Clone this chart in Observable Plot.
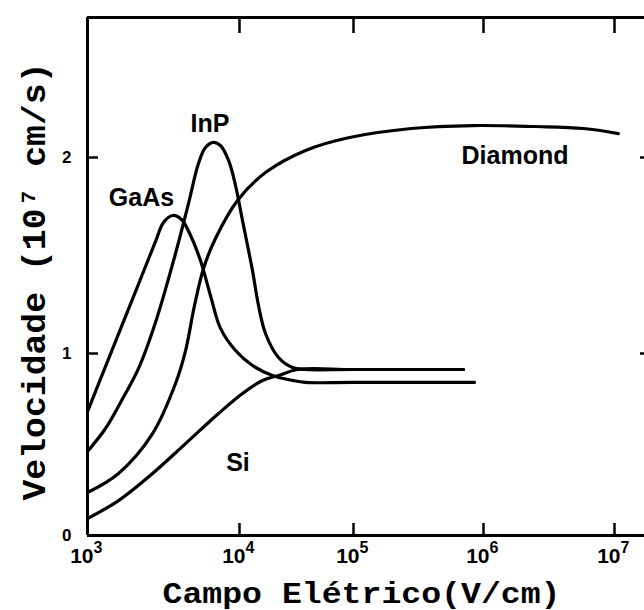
<!DOCTYPE html>
<html><head><meta charset="utf-8">
<script src="https://cdn.jsdelivr.net/npm/d3@7"></script>
<script src="https://cdn.jsdelivr.net/npm/@observablehq/plot@0.6"></script>
<style>body{margin:0;background:#fff}#chart svg{display:block}</style>
</head><body><div id="chart"></div>
<script>
// Axis ticks
const fieldTicks = [1e3, 1e4, 1e5, 1e6, 1e7];
const velocityTicks = [0, 1, 2];
const velocityMax = 2.714;

// GaAs
const gaasField = [1000, 1416, 2070, 2800, 3162, 3622, 4150, 4766, 5536, 6442, 7499, 9420, 13000, 19450, 29170, 37930, 100000, 853000];
const gaasVel   = [0.681, 0.997, 1.316, 1.571, 1.668, 1.704, 1.684, 1.602, 1.474, 1.296, 1.128, 1.015, 0.934, 0.879, 0.852, 0.841, 0.841, 0.841];
// InP
const inpField = [1000, 1313, 1649, 2167, 2800, 3794, 4615, 5370, 5970, 6745, 7499, 8472, 9420, 10620, 13000, 14680, 16900, 21980, 29170, 37930, 100000, 702000];
const inpVel   = [0.462, 0.588, 0.731, 0.918, 1.158, 1.510, 1.765, 1.969, 2.051, 2.077, 2.061, 1.985, 1.857, 1.679, 1.423, 1.245, 1.102, 0.978, 0.923, 0.912, 0.912, 0.912];
// Diamond
const diaField = [1000, 1600, 2680, 3794, 4418, 5058, 5796, 6950, 9700, 16900, 37930, 92200, 279000, 822000, 2450000, 5800000, 10700000];
const diaVel   = [0.236, 0.341, 0.560, 0.835, 1.015, 1.245, 1.434, 1.587, 1.781, 1.923, 2.036, 2.102, 2.148, 2.163, 2.158, 2.148, 2.122];
// Si
const siField = [1000, 1600, 2680, 4418, 7278, 10620, 15920, 21980, 32300, 100000, 702000];
const siVel   = [0.093, 0.192, 0.341, 0.505, 0.670, 0.780, 0.852, 0.879, 0.912, 0.912, 0.912];

// Curve labels
const labelNames = ["InP", "GaAs", "Diamond", "Si"];
const labelField = [6397, 2265, 1740000, 9770];
const labelVel   = [2.171, 1.791, 2.010, 0.401];

const xTitle = "Campo Elétrico(V/cm)";
const yTitle = "Velocidade (10⁷ cm/s)";

const series = (f, v) => f.map((x, i) => ({x, y: v[i]}));
const sans = "'Liberation Sans', Arial, Helvetica, sans-serif";
const mono = "'Courier New', 'Liberation Mono', monospace";
const lineOpts = {x: "x", y: "y", stroke: "#000", strokeWidth: 3.2, curve: "catmull-rom"};

const chart = Plot.plot({
  width: 644, height: 610,
  marginLeft: 87, marginRight: 0, marginTop: 17, marginBottom: 75,
  style: {background: "#fff", color: "#000", fontFamily: sans},
  x: {type: "log", domain: fieldTicks, range: [87, 239, 353, 483, 614], axis: null},
  y: {type: "linear", domain: [0, 1, 2, velocityMax], range: [535, 353, 157, 17], axis: null},
  marks: [
    Plot.line(series(gaasField, gaasVel), lineOpts),
    Plot.line(series(inpField, inpVel), lineOpts),
    Plot.line(series(diaField, diaVel), lineOpts),
    Plot.line(series(siField, siVel), lineOpts),
    Plot.ruleY([0, velocityMax], {stroke: "#000", strokeWidth: 3}),
    Plot.ruleX([fieldTicks[0]], {stroke: "#000", strokeWidth: 3}),
    Plot.axisX(fieldTicks.slice(1), {anchor: "bottom", tickSize: -12, tickFormat: () => "", label: null, strokeWidth: 2.5}),
    Plot.axisX(fieldTicks.slice(1), {anchor: "top", tickSize: -15, tickFormat: () => "", label: null, strokeWidth: 2.5}),
    Plot.axisY([1, 2], {anchor: "left", tickSize: -11, tickFormat: () => "", label: null, strokeWidth: 2.5}),
    Plot.axisY([1, 2], {anchor: "right", tickSize: -5, tickFormat: () => "", label: null, strokeWidth: 2.5}),
    Plot.text(fieldTicks, {x: d => d, frameAnchor: "bottom", text: () => "10", textAnchor: "end", lineAnchor: "middle", dx: 6, dy: 21, fontSize: 21, fontWeight: "bold", fontFamily: sans}),
    Plot.text(fieldTicks, {x: d => d, frameAnchor: "bottom", text: d => String(Math.round(Math.log10(d))), textAnchor: "start", lineAnchor: "middle", dx: 6, dy: 12, fontSize: 16, fontWeight: "bold", fontFamily: sans}),
    Plot.text(velocityTicks, {y: d => d, frameAnchor: "left", text: d => String(d), textAnchor: "end", lineAnchor: "middle", dx: -16, fontSize: 17, fontWeight: "bold", fontFamily: sans}),
    Plot.text(labelNames, {x: (d, i) => labelField[i], y: (d, i) => labelVel[i], lineAnchor: "middle", fontSize: 25, fontWeight: "bold", fontFamily: sans}),
    Plot.text([xTitle], {frameAnchor: "bottom", lineAnchor: "bottom", dx: -4.5, dy: 67, fontSize: 30, fontWeight: "bold", fontFamily: mono}),
    Plot.text([yTitle], {frameAnchor: "left", rotate: -90, textAnchor: "start", lineAnchor: "bottom", dx: -43, dy: 224, fontSize: 33, fontWeight: "bold", fontFamily: mono})
  ]
});
document.getElementById("chart").appendChild(chart);
d3.select(chart).selectAll("text").each(function () {
  const t = this.textContent;
  if (t === xTitle) d3.select(this).attr("textLength", 398).attr("lengthAdjust", "spacingAndGlyphs");
  if (t === yTitle) d3.select(this).attr("textLength", 438).attr("lengthAdjust", "spacingAndGlyphs");
});
</script></body></html>
